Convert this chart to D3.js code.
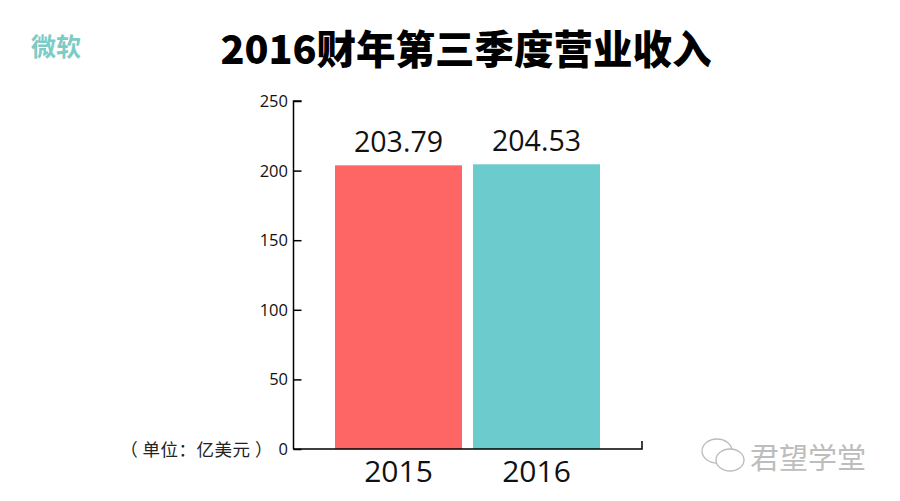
<!DOCTYPE html>
<html><head><meta charset="utf-8">
<script src="https://cdn.jsdelivr.net/npm/d3@7"></script>
<style>body{margin:0;background:#fff;}svg{display:block;}</style>
</head><body>
<svg id="c" width="900" height="501"></svg>
<script>
const categories = ["2015", "2016"];
const values = [203.79, 204.53];
const valueLabels = ["203.79", "204.53"];
const barColors = ["#fe6565", "#6ccbcc"];
const yTicks = [0, 50, 100, 150, 200, 250];
const title = "2016财年第三季度营业收入";
const brand = "微软";
const unitLabel = "（ 单位：亿美元 ）";
const watermark = "君望学堂";

const svg = d3.select("#c");
const font = "'Noto Sans CJK SC','Open Sans','DejaVu Sans',sans-serif";
const y = d3.scaleLinear().domain([0, 250]).range([449, 101]);
const x = d3.scaleBand().domain(categories).range([329.5, 605.5]).paddingInner(0.08).paddingOuter(0.04);

// title
svg.append("text").attr("x", 466).attr("y", 64).attr("text-anchor", "middle")
  .attr("font-family", font).attr("font-weight", 900).attr("font-size", 39.5)
  .attr("fill", "#000").text(title);
svg.append("text").attr("x", 31).attr("y", 56)
  .attr("font-family", font).attr("font-weight", 700).attr("font-size", 25)
  .attr("fill", "#7ccbc6").text(brand);

// bars
svg.selectAll("rect.bar").data(values).join("rect").attr("class", "bar")
  .attr("x", (d, i) => x(categories[i])).attr("width", x.bandwidth())
  .attr("y", d => y(d)).attr("height", d => y(0) - y(d))
  .attr("fill", (d, i) => barColors[i]);

// value labels
svg.selectAll("text.val").data(values).join("text").attr("class", "val")
  .attr("x", (d, i) => x(categories[i]) + x.bandwidth() / 2)
  .attr("y", d => y(d) - 13).attr("text-anchor", "middle")
  .attr("font-family", "'Open Sans','DejaVu Sans',sans-serif").attr("font-size", 28.5)
  .attr("fill", "#111").text((d, i) => valueLabels[i]);

// y axis
const yAxis = d3.axisRight(y).tickValues(yTicks).tickSize(8).tickFormat("");
const gy = svg.append("g").attr("transform", "translate(293.5,0)").call(yAxis);
gy.select(".domain").attr("d", `M8,${y(250)}H0V${y(0)}`).attr("stroke", "#000").attr("stroke-width", 1.5);
gy.selectAll(".tick line").attr("stroke", "#000").attr("stroke-width", 1.5);
svg.selectAll("text.ytl").data(yTicks).join("text").attr("class", "ytl")
  .attr("x", 288).attr("y", d => y(d) + 6).attr("text-anchor", "end")
  .attr("font-family", "'Open Sans','DejaVu Sans',sans-serif").attr("font-size", 16.5)
  .attr("fill", "#111").text(d => d);

// x axis
const xAxis = d3.axisBottom(x).tickSize(0).tickFormat("");
const gx = svg.append("g").attr("transform", `translate(0,${y(0)})`).call(xAxis);
gx.select(".domain").attr("d", "M293,0H642V-8").attr("stroke", "#000").attr("stroke-width", 1.5).attr("fill", "none");
svg.selectAll("text.xl").data(categories).join("text").attr("class", "xl")
  .attr("x", d => x(d) + x.bandwidth() / 2).attr("y", 482).attr("text-anchor", "middle")
  .attr("font-family", "'Open Sans','DejaVu Sans',sans-serif").attr("font-size", 30)
  .attr("fill", "#111").text(d => d);

// unit label
svg.append("text").attr("x", 273).attr("y", 456).attr("text-anchor", "end")
  .attr("font-family", font).attr("font-size", 17.5).attr("letter-spacing", 0.5).attr("fill", "#222").text(unitLabel);

// watermark icon
const ic = svg.append("g").attr("fill", "none").attr("stroke", "#bbb").attr("stroke-width", 1.3);
ic.append("ellipse").attr("cx", 717).attr("cy", 451).attr("rx", 15).attr("ry", 12).attr("fill", "#fff");
ic.append("ellipse").attr("cx", 730).attr("cy", 460).attr("rx", 14).attr("ry", 11).attr("fill", "#fff");
svg.append("text").attr("x", 750).attr("y", 469)
  .attr("font-family", font).attr("font-size", 29).attr("fill", "#bdbdbd").text(watermark);
</script>
</body></html>
